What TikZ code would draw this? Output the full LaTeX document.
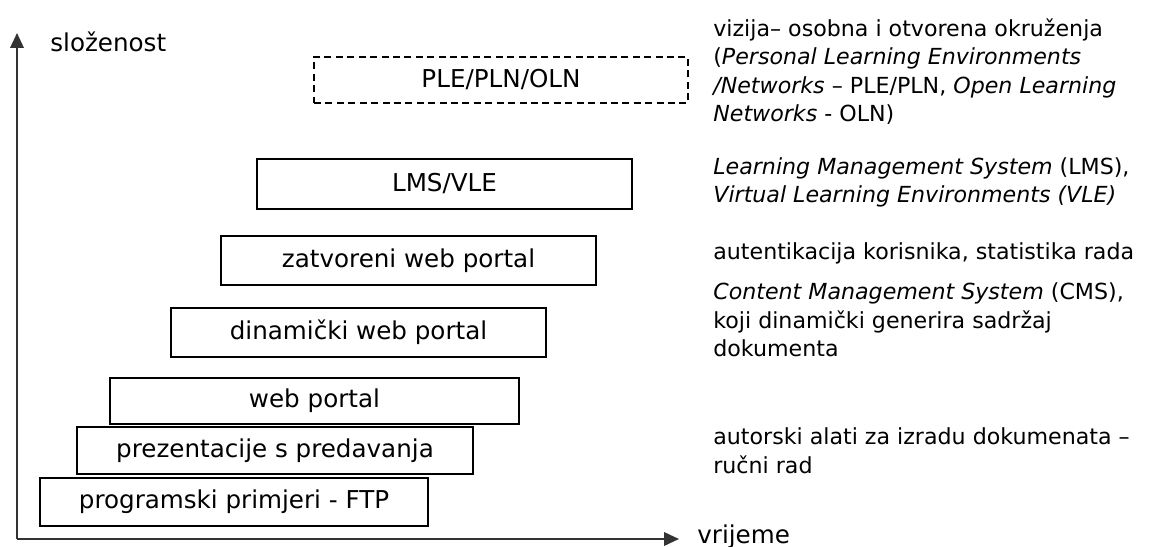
\documentclass[tikz,border=0pt]{standalone}
\usepackage{fontspec}
\setmainfont{DejaVu Sans}
\usetikzlibrary{arrows.meta}
\newdimen\pxu \pxu=0.02cm

\tikzset{
  stagebox/.style 2 args={draw, line width=0.9pt, minimum width=#1\pxu, minimum height=#2\pxu,
    inner sep=0pt, font=\fontsize{14}{16}\selectfont},
  visionbox/.style 2 args={stagebox={#1}{#2}, dash pattern=on 4pt off 2.5pt},
  % base of a note = baseline of its last line
  note/.style={anchor=base west, align=left, inner sep=0pt, font=\fontsize{12.6}{16.3}\selectfont},
  axislabel/.style={anchor=base west, inner sep=0pt, font=\fontsize{14}{16}\selectfont},
  axis/.style={line width=1.2pt, black!80, -{Triangle[length=0.3cm, width=0.27cm]}}
}

\begin{document}
\begin{tikzpicture}[x=0.02cm, y=-0.02cm]
\useasboundingbox (0,0) rectangle (1153,547);

% axes
\coordinate (origin) at (17,539);
\coordinate (ytop) at (17,33);
\coordinate (xend) at (679,539);
\draw[axis] (origin) -- (ytop);
\draw[axis] (origin) -- (xend);
\node[axislabel] (ylab) at (50,52) {složenost};
\node[axislabel] (xlab) at (697,543) {vrijeme};

% stages
\node[visionbox={374}{46}] (ple) at (501,80) {PLE/PLN/OLN};
\node[stagebox={375}{50}] (lms) at (444.5,184) {LMS/VLE};
\node[stagebox={375}{49}] (closed) at (408.5,260.5) {zatvoreni web portal};
\node[stagebox={375}{49}] (dynamic) at (358.5,332.5) {dinamički web portal};
\node[stagebox={409}{46}] (portal) at (314.5,401) {web portal};
\node[stagebox={396}{47}] (slides) at (275,450.5) {prezentacije s predavanja};
\node[stagebox={388}{48}] (ftp) at (234,502) {programski primjeri - FTP};

% notes on the right
\node[note] (plenote) at (713,122) {vizija– osobna i otvorena okruženja\\
  (\textit{Personal Learning Environments}\\
  \textit{/Networks} – PLE/PLN, \textit{Open Learning}\\
  \textit{Networks} - OLN)};
\node[note] (lmsnote) at (713,203) {\textit{Learning Management System} (LMS),\\
  \textit{Virtual Learning Environments (VLE)}};
\node[note] (closednote) at (713,260) {autentikacija korisnika, statistika rada};
\node[note] (cmsnote) at (713,357) {\textit{Content Management System} (CMS),\\
  koji dinamički generira sadržaj\\
  dokumenta};
\node[note] (ftpnote) at (713,473) {autorski alati za izradu dokumenata –\\
  ručni rad};
\end{tikzpicture}
\end{document}
